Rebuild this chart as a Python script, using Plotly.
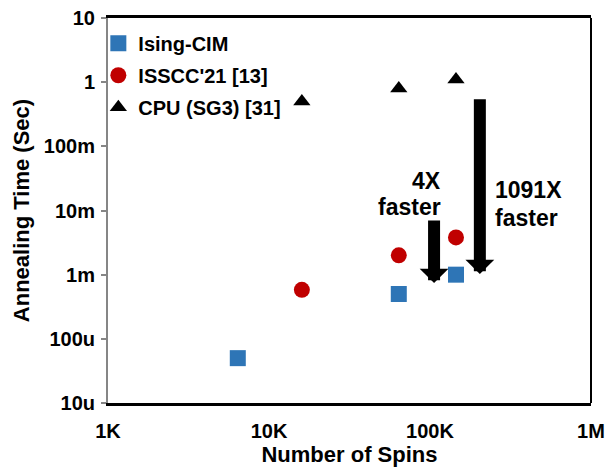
import numpy as np
import plotly.graph_objects as go

# ---- data ----
series_names = ["Ising-CIM", "ISSCC'21 [13]", "CPU (SG3) [31]"]
cim_spins = [6400, 64000, 145000]
cim_time = [50e-6, 0.5e-3, 1.0e-3]
isscc_spins = [16000, 64000, 145000]
isscc_time = [0.58e-3, 2.0e-3, 3.8e-3]
cpu_spins = [16000, 64000, 145000]
cpu_time = [0.50, 0.80, 1.10]

x_tickvals = [1e3, 1e4, 1e5, 1e6]
x_ticktext = ["1K", "10K", "100K", "1M"]
y_tickvals = [1e-5, 1e-4, 1e-3, 1e-2, 1e-1, 1, 10]
y_ticktext = ["10u", "100u", "1m", "10m", "100m", "1", "10"]

speedup_labels = ["4X", "1091X"]
arrow_spins = [106e3, 204e3]
arrow_from = [7.4e-3, 0.57]
arrow_to = [0.74e-3, 1.02e-3]

FONT = "Liberation Sans, Arial, sans-serif"
BLUE = "#2E75B6"
RED = "#C00000"

fig = go.Figure()
fig.add_trace(go.Scatter(x=cim_spins, y=cim_time, mode="markers", name=series_names[0],
                         legendgroup="a",
                         marker=dict(symbol="square", size=16, color=BLUE)))
fig.add_trace(go.Scatter(x=isscc_spins, y=isscc_time, mode="markers", name=series_names[1],
                         legendgroup="b",
                         marker=dict(symbol="circle", size=16, color=RED)))
fig.add_trace(go.Scatter(x=cpu_spins, y=cpu_time, mode="markers", name=series_names[2],
                         legendgroup="c",
                         marker=dict(symbol="triangle-up", size=15, color="black")))

annotations = []
for xs, y0, y1 in zip(arrow_spins, arrow_from, arrow_to):
    annotations.append(dict(
        x=np.log10(xs), y=np.log10(y1), ax=np.log10(xs), ay=np.log10(y0),
        xref="x", yref="y", axref="x", ayref="y", text="", showarrow=True,
        arrowhead=1, arrowsize=0.4, arrowwidth=12, arrowcolor="black", standoff=0))

tf = dict(family=FONT, size=23, color="black", weight="bold")
annotations += [
    dict(x=5.081, y=-1.540, xref="x", yref="y", text=speedup_labels[0], showarrow=False,
         xanchor="right", yanchor="middle", font=tf),
    dict(x=5.081, y=-1.945, xref="x", yref="y", text="faster", showarrow=False,
         xanchor="right", yanchor="middle", font=tf),
    dict(x=5.391, y=-1.680, xref="x", yref="y", text=speedup_labels[1], showarrow=False,
         xanchor="left", yanchor="middle", font=tf),
    dict(x=5.391, y=-2.117, xref="x", yref="y", text="faster", showarrow=False,
         xanchor="left", yanchor="middle", font=tf),
]

fig.update_layout(
    width=606, height=470,
    margin=dict(l=108, r=15, t=18, b=67),
    paper_bgcolor="white", plot_bgcolor="white",
    font=dict(family=FONT, size=20, color="black", weight="bold"),
    showlegend=True,
    legend=dict(x=-0.02, y=0.985, xanchor="left", yanchor="top",
                bgcolor="rgba(0,0,0,0)", borderwidth=0,
                font=dict(family=FONT, size=20, color="black", weight="bold"),
                traceorder="grouped", tracegroupgap=3, itemwidth=30),
    annotations=annotations,
    shapes=[dict(type="line", xref="x domain", yref="y domain", x0=1, x1=1, y0=0, y1=1,
                 line=dict(color="black", width=2))],
)

fig.update_xaxes(
    type="log", range=[3, 6], automargin=False,
    tickvals=x_tickvals, ticktext=x_ticktext,
    showgrid=False, zeroline=False,
    showline=True, linecolor="black", linewidth=2.5, mirror=True,
    ticks="", ticklabelstandoff=8,
    tickfont=dict(family=FONT, size=20, color="black", weight="bold"),
    title=dict(text="Number of Spins", standoff=6,
               font=dict(family=FONT, size=22, color="black", weight="bold")),
)
fig.update_yaxes(
    type="log", range=[-5, 1], automargin=False,
    tickvals=y_tickvals, ticktext=y_ticktext,
    showgrid=False, zeroline=False,
    showline=True, linecolor="#868686", linewidth=2, mirror=False,
    ticks="outside", ticklen=5, tickwidth=1.5, tickcolor="#868686",
    ticklabelstandoff=2,
    tickfont=dict(family=FONT, size=20, color="black", weight="bold"),
    title=dict(text="Annealing Time (Sec)", standoff=8,
               font=dict(family=FONT, size=22, color="black", weight="bold")),
)

fig.write_html("out.html")
